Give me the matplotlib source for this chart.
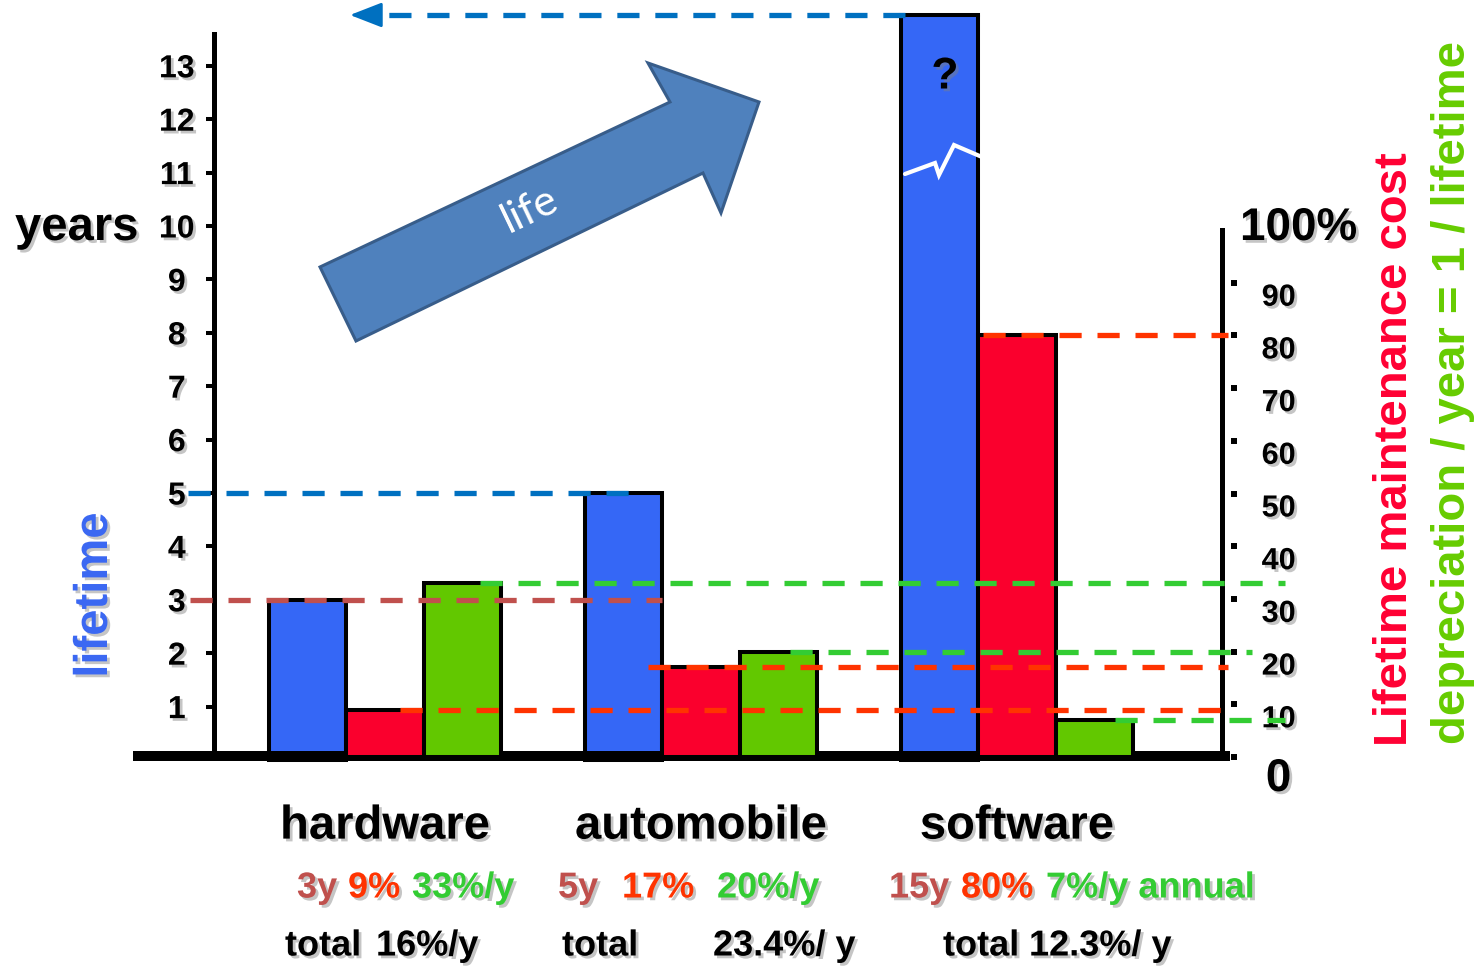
import matplotlib
matplotlib.use('Agg')
import matplotlib.pyplot as plt
import matplotlib.patheffects as pe
from matplotlib.patches import Polygon
from matplotlib.lines import Line2D
import numpy as np

# lifetime in years, lifetime maintenance cost in %, depreciation per year in %
categories = ['hardware', 'automobile', 'software']
lifetimes = [3, 5, 15]
maintenance = [9, 17, 80]
depreciation = [33, 20, 7]
total_per_year = ['16%/y', '23.4%/ y', '12.3%/ y']
year_ticks = list(range(1, 14))
pct_ticks = list(range(0, 100, 10))

W, H = 1479, 966
BLUE = '#3567F6'
RED = '#FA002D'
GREEN = '#62C800'
LINE_BLUE = '#0070C0'
BROWN = '#C0504D'
ORANGE = '#FF3300'
LIGHT_GREEN = '#33CC33'

plt.rcParams['font.family'] = ['Liberation Sans', 'DejaVu Sans']
plt.rcParams['font.weight'] = 'bold'

shadow = [pe.withSimplePatchShadow(offset=(2, -2), shadow_rgbFace='#808080', alpha=0.45)]


def fx(x):
    return x / W


def fy(y):
    return 1 - y / H


def dx(px):
    # horizontal pixel -> group units (316 px per group, hardware at 385 px)
    return (px - 385) / 316


fig = plt.figure(figsize=(W / 100, H / 100), dpi=100)
ax = fig.add_axes([0, 0, 1, 1 - 15 / H])
ax.patch.set_visible(False)
axp = ax.twinx()

# scales: years on the left, percent on the right
ax.set_xlim(dx(0), dx(W))
top_yrs = 745 / 53.4
ax.set_ylim(top_yrs - 951 / 53.4, top_yrs)
top_pct = 742 / 5.27
axp.set_ylim(top_pct - 951 / 5.27, top_pct)

groups = np.arange(len(categories))
w = 0.245
edge = dict(edgecolor='black', linewidth=2.9)
blue_bars = ax.bar(groups - w, lifetimes, w, color=BLUE, **edge)
axp.bar(groups, maintenance, w, color=RED, **edge)
axp.bar(groups + w, depreciation, w, color=GREEN, **edge)

# bars running past the top get their edge drawn at the cut
ytop = ax.get_ylim()[1]
for rect, v in zip(blue_bars, lifetimes):
    if v > ytop:
        ax.plot([rect.get_x(), rect.get_x() + rect.get_width()], [ytop, ytop],
                color='black', lw=2.9, clip_on=False, solid_capstyle='projecting')

dash = (0, (4.2, 3.0))


def ref_line(value, x0, x1, color, trans):
    axp.plot([dx(x0), dx(x1)], [value, value], color=color, lw=3.8, ls=dash,
             transform=trans, clip_on=False, zorder=5)


ref_line(lifetimes[1], 188, 640, LINE_BLUE, ax.transData)
ref_line(lifetimes[0], 190, 662, BROWN, ax.transData)
ref_line(maintenance[0], 400, 1228, ORANGE, axp.transData)
ref_line(maintenance[1], 648, 1228, ORANGE, axp.transData)
ref_line(maintenance[2], 983, 1228, ORANGE, axp.transData)
ref_line(depreciation[0], 480, 1285, LIGHT_GREEN, axp.transData)
ref_line(depreciation[1], 790, 1252, LIGHT_GREEN, axp.transData)
ref_line(depreciation[2], 1115, 1285, LIGHT_GREEN, axp.transData)

# dashed arrow from the top of the software bar back to the left
ref_line(ytop, 905, 366, LINE_BLUE, ax.transData)
axp.annotate('', xy=(dx(350), ytop), xytext=(dx(372), ytop),
             xycoords=ax.transData, textcoords=ax.transData, annotation_clip=False,
             arrowprops=dict(arrowstyle='-|>,head_length=0.9,head_width=0.35',
                             color=LINE_BLUE, lw=2, mutation_scale=22,
                             shrinkA=0, shrinkB=0))

# left axis: years
for s in ['top', 'right']:
    ax.spines[s].set_visible(False)
ax.spines['left'].set_position(('data', dx(214)))
ax.spines['left'].set_bounds(0.2, 13.6)
ax.spines['left'].set_linewidth(3.6)
ax.spines['bottom'].set_position(('data', 4 / 53.4))
ax.spines['bottom'].set_bounds(dx(138), dx(1225))
ax.spines['bottom'].set_linewidth(7.2)
ax.set_yticks(year_ticks)
ax.tick_params(axis='y', direction='out', length=5.8, width=2.9, pad=21, labelsize=23)
for lbl in ax.get_yticklabels():
    lbl.set_ha('center')
ax.set_xticks(groups, categories)
ax.tick_params(axis='x', length=0, pad=35, labelsize=34)

# right axis: percent
for s in ['top', 'bottom']:
    axp.spines[s].set_visible(False)
axp.spines['left'].set_position(('data', dx(1222)))
axp.spines['left'].set_bounds(0, 100)
axp.spines['left'].set_linewidth(3.6)
axp.spines['right'].set_position(('data', dx(1231)))
axp.spines['right'].set_visible(False)
axp.yaxis.set_ticks_position('right')
axp.set_yticks(pct_ticks)
axp.tick_params(axis='y', direction='out', length=4.3, width=4.3, pad=30, labelsize=22)
for lbl in axp.get_yticklabels():
    lbl.set_ha('center')
    lbl.set_va('top')
axp.get_yticklabels()[0].set_fontsize(33)

for lbl in ax.get_yticklabels() + ax.get_xticklabels() + axp.get_yticklabels():
    lbl.set_path_effects(shadow)

# axis titles
fig.text(fx(15), fy(228), 'years', fontsize=34, ha='left', va='center', path_effects=shadow)
fig.text(fx(95), fy(595), 'lifetime', color='#3B68F2', fontsize=34, rotation=90,
         ha='center', va='center', path_effects=shadow)
fig.text(fx(1395), fy(449), 'Lifetime maintenance cost', color='#FF0033', fontsize=34,
         rotation=90, ha='center', va='center')
fig.text(fx(1453), fy(393), 'depreciation / year = 1 / lifetime', color='#66CC00',
         fontsize=34, rotation=90, ha='center', va='center')
fig.text(fx(1240), fy(228), '100%', fontsize=33, ha='left', va='center', path_effects=shadow)

# unknown software lifetime: question mark and break mark
fig.text(fx(945), fy(77), '?', fontsize=32, ha='center', va='center', path_effects=shadow)
zig = [(905, 174), (935, 163), (939, 175), (954, 145), (982, 157)]
fig.add_artist(Line2D([fx(x) for x, y in zig], [fy(y) for x, y in zig], color='white',
                      lw=3, solid_capstyle='round', solid_joinstyle='miter'))

# "life" block arrow
arrow_pts = [(320, 267), (670, 102), (648, 63), (759, 102), (721, 213), (703, 173), (356, 341)]
fig.add_artist(Polygon([(fx(x), fy(y)) for x, y in arrow_pts], closed=True,
                       facecolor='#4F81BD', edgecolor='#385D8A', lw=2.2))
fig.text(fx(530), fy(210), 'life', family=['Lato', 'DejaVu Sans'], fontweight='normal',
         fontsize=31, color='white', rotation=25.6, ha='center', va='center')

# summary rows under each group
row1_x = [[297, 348, 412], [558, 622, 717], [889, 961, 1046]]
total_x = [285, 562, 943]
value_x = [376, 713, 1029]
for i in range(len(categories)):
    parts = [f'{lifetimes[i]}y', f'{maintenance[i]}%',
             f'{depreciation[i]}%/y' + (' annual' if i == 2 else '')]
    for x, s, c in zip(row1_x[i], parts, [BROWN, ORANGE, LIGHT_GREEN]):
        fig.text(fx(x), fy(888), s, color=c, fontsize=26, ha='left', va='center',
                 path_effects=shadow)
    fig.text(fx(total_x[i]), fy(946), 'total', fontsize=26, ha='left', va='center',
             path_effects=shadow)
    fig.text(fx(value_x[i]), fy(946), total_per_year[i], fontsize=26, ha='left',
             va='center', path_effects=shadow)

fig.savefig('out.png', dpi=100)
